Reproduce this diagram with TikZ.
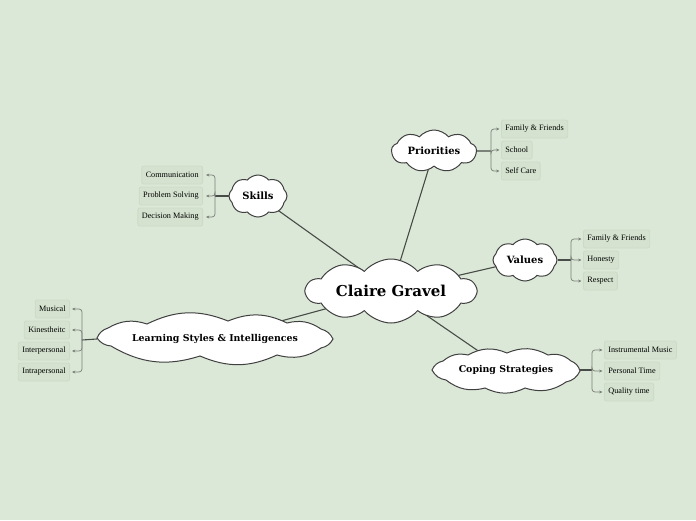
\documentclass[tikz,border=0pt]{standalone}
\usepackage{fontspec}
\setmainfont{Liberation Serif}
\newfontfamily\titlefont{DejaVu Serif}
\usetikzlibrary{shapes.symbols,arrows.meta,positioning,backgrounds}

\definecolor{bgcol}{RGB}{220,232,215}
\definecolor{leafcol}{RGB}{212,226,207}
\definecolor{leafline}{RGB}{204,219,199}
\definecolor{linecol}{RGB}{72,76,72}
\definecolor{branchcol}{RGB}{122,128,120}

\tikzset{
  topic/.style={cloud, cloud puffs=9, cloud puff arc=100, cloud ignores aspect,
    draw=black!75, line width=1pt, fill=white, inner sep=0pt,
    font=\titlefont\bfseries\fontsize{10}{12}\selectfont},
  flat topic/.style={inner sep=0pt, font=\titlefont\bfseries\fontsize{9.4}{11}\selectfont},
  blob/.style={draw=black!75, line width=1pt, fill=white},
  leaf/.style={draw=leafline, fill=leafcol, rounded corners=2pt, line width=0.8pt,
    minimum height=18pt, inner xsep=4pt, font=\fontsize{8.2}{9}\selectfont},
  trunk/.style={draw=linecol, line width=1.1pt},
  twig/.style={draw=branchcol, line width=0.7pt, rounded corners=3pt,
    shorten >=1.5pt, -{Stealth[length=3.4pt,width=3pt]}},
}

\begin{document}
\begin{tikzpicture}[x=1pt, y=-1pt]
  \useasboundingbox (0,0) rectangle (696,520);

  % central topic
  \node[topic, cloud puffs=10, minimum width=170pt, minimum height=64pt,
        font=\titlefont\bfseries\fontsize{15}{18}\selectfont] (main) at (391,291) {Claire Gravel};

  % main topics
  \node[topic, minimum width=85pt, minimum height=42pt] (pri) at (434,151) {Priorities};
  \node[topic, cloud puffs=8, minimum width=58pt, minimum height=42pt] (skl) at (258,196) {Skills};
  \node[topic, cloud puffs=8, minimum width=64pt, minimum height=42pt] (val) at (525,260) {Values};

  % long flat clouds, drawn by hand
  \draw[blob] (97,338) \foreach \x/\y in {108/328, 147/324, 228/321, 287/323, 321/329,
      333/339, 321/348, 277/355, 200/356, 111/346, 97/338} { to[bend left=24] (\x,\y) } -- cycle;
  \node[flat topic, minimum width=236pt, minimum height=36pt] (lrn) at (215,339) {Learning Styles \& Intelligences};

  \draw[blob] (432,370) \foreach \x/\y in {443/361, 468/355, 507/353, 548/355, 571/361,
      580/371, 566/382, 525/388, 485/388, 446/380, 432/370} { to[bend left=26] (\x,\y) } -- cycle;
  \node[flat topic, minimum width=148pt, minimum height=36pt] (cop) at (506,370) {Coping Strategies};

  % Priorities
  \coordinate (pri-b) at (491,151);
  \draw[trunk] (pri.east) -- (pri-b);
  \foreach \name/\y [count=\i] in {Family \& Friends/129, School/150, Self Care/171} {
    \node[leaf, anchor=west] (pri-\i) at (501,\y) {\name};
    \draw[twig] (pri-b) |- (pri-\i.west);
  }

  % Skills
  \coordinate (skl-b) at (215,196);
  \draw[trunk] (skl.west) -- (skl-b);
  \foreach \name/\y [count=\i] in {Communication/175, Problem Solving/196, Decision Making/217} {
    \node[leaf, anchor=east] (skl-\i) at (203,\y) {\name};
    \draw[twig, shorten >=3pt] (skl-b) |- (skl-\i.east);
  }

  % Values
  \coordinate (val-b) at (571,260);
  \draw[trunk] (val.east) -- (val-b);
  \foreach \name/\y [count=\i] in {Family \& Friends/239, Honesty/260, Respect/281} {
    \node[leaf, anchor=west] (val-\i) at (583,\y) {\name};
    \draw[twig] (val-b) |- (val-\i.west);
  }

  % Learning Styles
  \coordinate (lrn-b) at (82,340);
  \draw[trunk] (lrn.west) -- (lrn-b);
  \foreach \name/\y [count=\i] in {Musical/309, Kinestheitc/330, Interpersonal/351, Intrapersonal/372} {
    \node[leaf, anchor=east] (lrn-\i) at (70,\y) {\name};
    \draw[twig, shorten >=2pt] (lrn-b) |- (lrn-\i.east);
  }

  % Coping Strategies
  \coordinate (cop-b) at (592,370);
  \draw[trunk] (cop.east) -- (cop-b);
  \foreach \name/\y [count=\i] in {Instrumental Music/350, Personal Time/371, Quality time/392} {
    \node[leaf, anchor=west] (cop-\i) at (604,\y) {\name};
    \draw[twig] (cop-b) |- (cop-\i.west);
  }

  % background and links from the centre, under the clouds
  \begin{scope}[on background layer]
    \fill[bgcol] (0,0) rectangle (696,520);
    \foreach \t in {pri, skl, val, lrn, cop}
      \draw[trunk] (main.center) -- (\t.center);
  \end{scope}
\end{tikzpicture}
\end{document}
